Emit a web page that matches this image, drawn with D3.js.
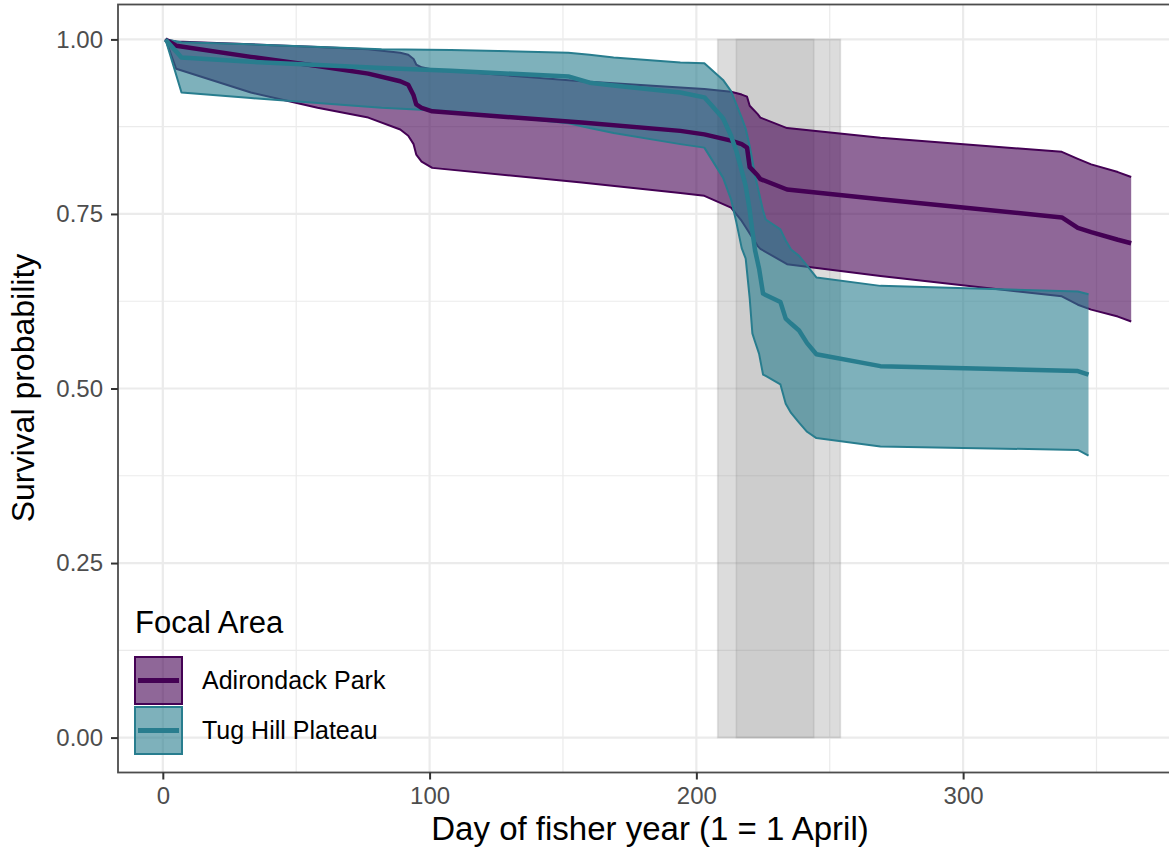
<!DOCTYPE html>
<html>
<head>
<meta charset="utf-8">
<script src="https://cdn.jsdelivr.net/npm/d3@7"></script>
<style>
  html, body { margin: 0; padding: 0; background: #fff; }
  svg { display: block; font-family: "Liberation Sans", Arial, sans-serif; }
</style>
</head>
<body>
<svg id="chart" width="1169" height="854"></svg>
<script>
// Kaplan–Meier style survival estimates with 95% confidence bands, by focal area.
const areaNames = ["Adirondack Park", "Tug Hill Plateau"];
const areaColors = ["#440154", "#287D8E"];

// Adirondack Park
const adkDays  = [1, 5, 33, 58, 77, 89, 92, 94, 95, 97, 101, 157, 194, 203, 213, 217, 219, 220, 223, 224, 234, 269, 337, 343, 348, 358, 363];
const adkEst   = [1.000, 0.991, 0.975, 0.962, 0.951, 0.940, 0.935, 0.920, 0.907, 0.902, 0.897, 0.881, 0.869, 0.864, 0.855, 0.850, 0.845, 0.817, 0.805, 0.800, 0.785, 0.771, 0.745, 0.730, 0.724, 0.713, 0.708];
const adkUpper = [1.000, 0.997, 0.993, 0.989, 0.986, 0.981, 0.978, 0.972, 0.964, 0.960, 0.957, 0.940, 0.931, 0.929, 0.925, 0.921, 0.918, 0.905, 0.893, 0.888, 0.873, 0.859, 0.839, 0.829, 0.821, 0.810, 0.803];
const adkLower = [1.000, 0.958, 0.924, 0.902, 0.888, 0.871, 0.862, 0.850, 0.835, 0.825, 0.816, 0.795, 0.780, 0.776, 0.759, 0.740, 0.728, 0.722, 0.704, 0.700, 0.678, 0.661, 0.632, 0.620, 0.613, 0.603, 0.596];

// Tug Hill Plateau
const tugDays  = [1, 7, 33, 82, 108, 152, 160, 169, 194, 203, 210, 213, 215, 217, 218.5, 220, 221, 222, 223.5, 225, 226, 231.5, 233.5, 235.5, 238.5, 241.5, 245, 269, 343, 347];
const tugEst   = [1.000, 0.974, 0.968, 0.959, 0.955, 0.947, 0.938, 0.934, 0.924, 0.917, 0.887, 0.862, 0.840, 0.812, 0.790, 0.755, 0.725, 0.698, 0.672, 0.636, 0.634, 0.624, 0.600, 0.593, 0.583, 0.565, 0.549, 0.532, 0.525, 0.520];
const tugUpper = [1.000, 0.996, 0.993, 0.986, 0.985, 0.981, 0.978, 0.974, 0.967, 0.966, 0.942, 0.926, 0.907, 0.888, 0.872, 0.847, 0.827, 0.805, 0.780, 0.755, 0.742, 0.728, 0.712, 0.699, 0.690, 0.676, 0.659, 0.647, 0.639, 0.635];
const tugLower = [1.000, 0.924, 0.916, 0.902, 0.897, 0.880, 0.873, 0.866, 0.850, 0.845, 0.802, 0.771, 0.738, 0.701, 0.686, 0.629, 0.579, 0.567, 0.550, 0.520, 0.518, 0.506, 0.478, 0.465, 0.451, 0.438, 0.429, 0.417, 0.412, 0.404];

// Trapping season windows (day of fisher year)
const seasonOuter = [208, 254];
const seasonInner = [215, 244];

// Axis ticks
const xMajor = [0, 100, 200, 300];
const xMinor = [50, 150, 250, 350];
const yMajor = [0, 0.25, 0.5, 0.75, 1];
const yMinor = [0.125, 0.375, 0.625, 0.875];

const svg = d3.select("#chart");
const panel = { left: 118, top: 4.5, bottom: 772.5, right: 1172 };

const x = d3.scaleLinear().domain([-16.8, 378.3]).range([panel.left, panel.right]);
const y = d3.scaleLinear().domain([-0.05, 1.05]).range([panel.bottom, panel.top]);

// Grid
const grid = svg.append("g");
grid.selectAll(".xmin").data(xMinor).join("line")
  .attr("x1", d => x(d)).attr("x2", d => x(d))
  .attr("y1", panel.top).attr("y2", panel.bottom)
  .attr("stroke", "#ebebeb").attr("stroke-width", 1.2);
grid.selectAll(".ymin").data(yMinor).join("line")
  .attr("y1", d => y(d)).attr("y2", d => y(d))
  .attr("x1", panel.left).attr("x2", panel.right)
  .attr("stroke", "#ebebeb").attr("stroke-width", 1.2);
grid.selectAll(".xmaj").data(xMajor).join("line")
  .attr("x1", d => x(d)).attr("x2", d => x(d))
  .attr("y1", panel.top).attr("y2", panel.bottom)
  .attr("stroke", "#ebebeb").attr("stroke-width", 2.2);
grid.selectAll(".ymaj").data(yMajor).join("line")
  .attr("y1", d => y(d)).attr("y2", d => y(d))
  .attr("x1", panel.left).attr("x2", panel.right)
  .attr("stroke", "#ebebeb").attr("stroke-width", 2.2);

// Season rectangles (beneath the curves)
const seasons = [
  { range: seasonOuter, op: 0.28 },
  { range: seasonInner, op: 0.17 }
];
svg.append("g").selectAll("rect").data(seasons).join("rect")
  .attr("x", d => x(d.range[0]))
  .attr("width", d => x(d.range[1]) - x(d.range[0]))
  .attr("y", y(1)).attr("height", y(0) - y(1))
  .attr("fill", "#808080").attr("fill-opacity", d => d.op)
  .attr("stroke", "#808080").attr("stroke-opacity", 0.2).attr("stroke-width", 1.6);

// Build series
function zipPts(days, vals) { return days.map((d, i) => [d, vals[i]]); }
const series = [
  { name: areaNames[0], color: areaColors[0], days: adkDays, est: adkEst, upper: adkUpper, lower: adkLower },
  { name: areaNames[1], color: areaColors[1], days: tugDays, est: tugEst, upper: tugUpper, lower: tugLower }
];

const line = d3.line().x(d => x(d[0])).y(d => y(d[1]));
const area = d3.area().x(d => x(d[0])).y0(d => y(d[1])).y1(d => y(d[2]));

// Confidence ribbons with outlined bounds
series.forEach(s => {
  const g = svg.append("g");
  const band = s.days.map((d, i) => [d, s.lower[i], s.upper[i]]);
  g.append("path").attr("d", area(band))
    .attr("fill", s.color).attr("fill-opacity", 0.6).attr("stroke", "none");
  g.append("path").attr("d", line(zipPts(s.days, s.upper)))
    .attr("fill", "none").attr("stroke", s.color).attr("stroke-width", 2).attr("stroke-linejoin", "round");
  g.append("path").attr("d", line(zipPts(s.days, s.lower)))
    .attr("fill", "none").attr("stroke", s.color).attr("stroke-width", 2).attr("stroke-linejoin", "round");
});

// Survival estimates
series.forEach(s => {
  svg.append("path").attr("d", line(zipPts(s.days, s.est)))
    .attr("fill", "none").attr("stroke", s.color).attr("stroke-width", 4.5)
    .attr("stroke-linejoin", "round");
});

// Panel border
svg.append("rect")
  .attr("x", panel.left).attr("y", panel.top)
  .attr("width", panel.right - panel.left).attr("height", panel.bottom - panel.top)
  .attr("fill", "none").attr("stroke", "#4d4d4d").attr("stroke-width", 1.8);

// Axes
const yAxis = svg.append("g").attr("transform", `translate(${panel.left},0)`)
  .call(d3.axisLeft(y).tickValues(yMajor).tickFormat(d3.format(".2f")).tickSize(7).tickPadding(8));
const xAxis = svg.append("g").attr("transform", `translate(0,${panel.bottom})`)
  .call(d3.axisBottom(x).tickValues(xMajor).tickFormat(d3.format("d")).tickSize(7).tickPadding(7));
[yAxis, xAxis].forEach(a => {
  a.select(".domain").remove();
  a.selectAll(".tick line").attr("stroke", "#333").attr("stroke-width", 2);
  a.selectAll(".tick text").attr("fill", "#4d4d4d").style("font-size", "24px")
    .style("font-family", "'Liberation Sans', Arial, sans-serif");
});

// Axis titles
svg.append("text").attr("x", 650).attr("y", 840).attr("text-anchor", "middle")
  .style("font-size", "33px").attr("fill", "#000").text("Day of fisher year (1 = 1 April)");
svg.append("text").attr("transform", "translate(34,388) rotate(-90)").attr("text-anchor", "middle")
  .style("font-size", "32px").attr("fill", "#000").text("Survival probability");

// Legend
const legend = svg.append("g").attr("transform", "translate(134,0)");
legend.append("text").attr("x", 1).attr("y", 633).style("font-size", "31px").attr("fill", "#000").text("Focal Area");
const keys = legend.selectAll("g.key").data(series).join("g").attr("class", "key")
  .attr("transform", (d, i) => `translate(0,${656 + i * 50})`);
keys.append("rect").attr("x", 1).attr("y", 1).attr("width", 47).attr("height", 47)
  .attr("fill", d => d.color).attr("fill-opacity", 0.6)
  .attr("stroke", d => d.color).attr("stroke-width", 2);
keys.append("line").attr("x1", 4).attr("x2", 45).attr("y1", 24.5).attr("y2", 24.5)
  .attr("stroke", d => d.color).attr("stroke-width", 5);
keys.append("text").attr("x", 68).attr("y", 33).style("font-size", "25px").attr("fill", "#000")
  .text(d => d.name);
</script>
</body>
</html>
